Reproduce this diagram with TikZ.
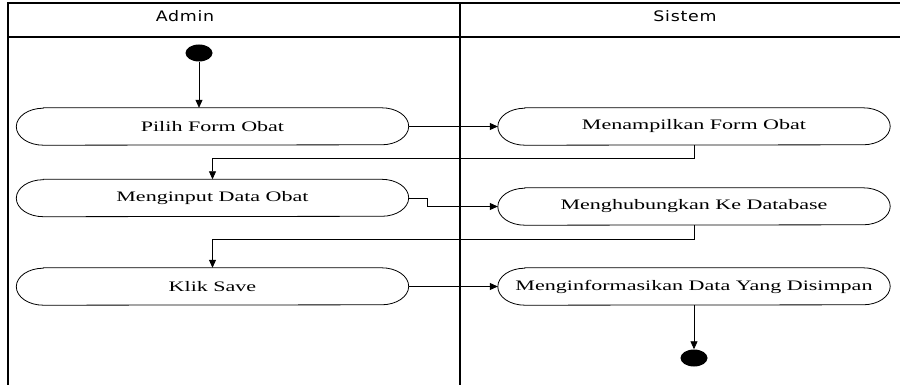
\documentclass[tikz,border=0pt]{standalone}
\usepackage{fontspec}
\newfontfamily\actfont[FakeStretch=1.52]{Liberation Serif}
\newfontfamily\lanefont[FakeStretch=1.2,LetterSpace=5]{DejaVu Sans}
\usetikzlibrary{arrows.meta}
\usetikzlibrary{shapes.geometric}

\begin{document}
\begin{tikzpicture}[x=1pt, y=-1pt,
    act/.style={minimum width=392pt, minimum height=37pt, inner sep=0pt,
      font=\actfont\fontsize{14.5}{16}\selectfont},
    dot/.style={ellipse, fill, inner sep=0pt, minimum width=27pt, minimum height=17pt},
    lane/.style={font=\lanefont\fontsize{14.5}{16}\selectfont},
    flow/.style={line width=0.8pt, -{Triangle[length=8pt, width=7pt]}},
    frame/.style={line width=1.2pt}]
  \useasboundingbox (0,0) rectangle (900,385);

  % swimlanes
  \draw[frame] (8,385) -- (8,3) -- (900,3);
  \draw[frame] (8,37) -- (900,37);
  \draw[frame] (460,3) -- (460,385);
  \node[lane] (admin) at (185,16) {Admin};
  \node[lane] (sistem) at (685,16) {Sistem};

  % activities
  \node[dot] (start) at (199,53) {};
  \node[act] (pilih) at (212.5,126.5) {Pilih Form Obat};
  \node[act] (tampil) at (694,126.5) {Menampilkan Form Obat};
  \node[act] (input) at (212.5,198) {Menginput Data Obat};
  \node[act] (hubung) at (694,206.5) {Menghubungkan Ke Database};
  \node[act] (save) at (212.5,286.5) {Klik Save};
  \node[act] (info) at (694,286.5) {Menginformasikan Data Yang Disimpan};
  \node[dot] (stop) at (694,358) {};

  \foreach \n in {pilih, tampil, input, hubung, save, info}
    \draw[line width=0.8pt] ([xshift=27pt]\n.north west) -- ([xshift=-27pt]\n.north east)
      arc[start angle=90, end angle=-90, x radius=27pt, y radius=18.5pt]
      -- ([xshift=27pt]\n.south west)
      arc[start angle=270, end angle=90, x radius=27pt, y radius=18.5pt] -- cycle;

  \draw[flow] (start) -- (start |- pilih.north);
  \draw[flow] (pilih) -- (tampil);
  \draw[flow] (tampil.south) -- ++(0,13) -| (input.north);
  \draw[flow] (input.east) -- ++(19,0) |- (hubung.west);
  \draw[flow] (hubung.south) -- ++(0,14) -| (save.north);
  \draw[flow] (save) -- (info);
  \draw[flow] (info) -- (stop);
\end{tikzpicture}
\end{document}
